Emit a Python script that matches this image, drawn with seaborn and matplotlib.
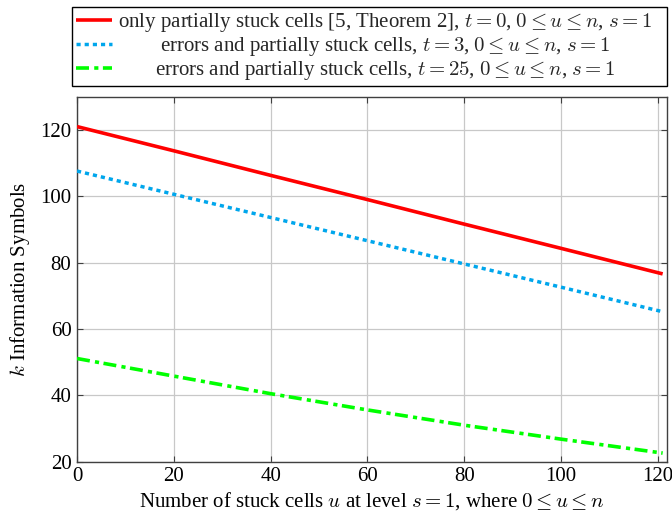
import matplotlib
matplotlib.use("Agg")
import matplotlib.pyplot as plt
import seaborn as sns
import pandas as pd
from matplotlib.transforms import Affine2D

u_vals = [0, 20, 40, 60, 80, 100, 121]
k_t0 = [121.0, 113.7, 106.3, 99.0, 91.6, 84.3, 76.6]
k_t3 = [107.6, 100.6, 93.6, 86.6, 79.6, 72.6, 65.2]
k_t25 = [51.1, 45.8, 40.5, 35.6, 31.0, 26.8, 22.6]

labels = [
    r"only partially stuck cells [5, Theorem 2], $t=0$, $0\leq u\leq n$, $s=1$",
    r"errors and partially stuck cells, $t=3$, $0\leq u\leq n$, $s=1$",
    r"errors and partially stuck cells, $t=25$, $0\leq u\leq n$, $s=1$",
]
xticks = [0, 20, 40, 60, 80, 100, 120]
yticks = [20, 40, 60, 80, 100, 120]

FS = 15
sns.set_theme(style="whitegrid")
plt.rcParams["font.family"] = ["Liberation Serif", "DejaVu Serif"]
plt.rcParams["mathtext.fontset"] = "cm"
plt.rcParams["font.size"] = FS

df = pd.DataFrame({
    "u": u_vals * 3,
    "k": k_t0 + k_t3 + k_t25,
    "series": [labels[0]] * len(u_vals) + [labels[1]] * len(u_vals) + [labels[2]] * len(u_vals),
})

fig = plt.figure(figsize=(6.72, 5.15), dpi=100)
ax = fig.add_axes([0.1146, 0.1035, 0.8780, 0.7087])

colors = ["#ff0000", "#00a6ec", "#00ff00"]
styles = [
    dict(lw=2.6, ls="-"),
    dict(lw=2.5, ls=(0, (1.2, 1.15))),
    dict(lw=2.6, ls=(0, (3.6, 1.45, 1.15, 1.25))),
]
handles = []
for lab, c, st in zip(labels, colors, styles):
    sub = df[df["series"] == lab]
    sns.lineplot(data=sub, x="u", y="k", ax=ax, color=c, linewidth=st["lw"],
                 linestyle=st["ls"], legend=False, zorder=3)
    line = ax.get_lines()[-1]
    line.set_dash_capstyle("butt")
    line.set_solid_capstyle("butt")
    handles.append(line)

ax.set_xlim(0, 121.9)
ax.set_ylim(20, 130)
ax.set_xticks(xticks)
ax.set_yticks(yticks)
ax.set_facecolor("white")
ax.grid(True, color="#c8c8c8", linewidth=0.9)
for s in ax.spines.values():
    s.set_color("#404040")
    s.set_linewidth(1.0)
    s.set_visible(True)
ax.tick_params(axis="both", direction="in", length=4, width=0.8, color="#404040",
               labelsize=FS, labelcolor="black", top=True, right=True,
               bottom=True, left=True, pad=4)
ax.set_xlabel(r"Number of stuck cells $u$ at level $s=1$, where $0\leq u\leq n$",
              fontsize=FS, color="black", labelpad=3)
ax.set_ylabel(r"$k$ Information Symbols", fontsize=FS, color="black", labelpad=6)

leg = fig.legend(handles, labels, loc="upper left",
                 bbox_to_anchor=(72 / 672, 1 - 88 / 515, 595 / 672, 81 / 515),
                 mode="expand", fontsize=FS, frameon=True, fancybox=False,
                 edgecolor="black", framealpha=1, handlelength=1.7,
                 handletextpad=0.3, labelspacing=0.05, borderaxespad=0,
                 borderpad=0.2)
leg.get_frame().set_linewidth(1.0)

fig.canvas.draw()
renderer = fig.canvas.get_renderer()
widths = [t.get_window_extent(renderer).width for t in leg.get_texts()]
wmax = max(widths)
for t, w in zip(leg.get_texts(), widths):
    dx = (wmax - w) / 2
    t.set_transform(t.get_transform() + Affine2D().translate(dx, 0))

fig.savefig("out.png", dpi=100)
